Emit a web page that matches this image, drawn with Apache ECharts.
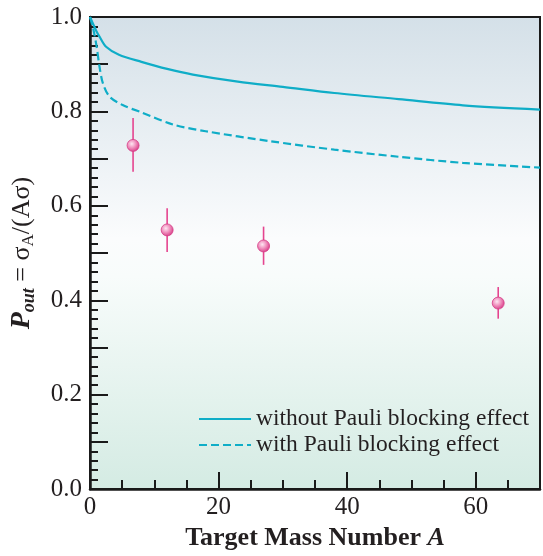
<!DOCTYPE html>
<html>
<head>
<meta charset="utf-8">
<script src="https://cdn.jsdelivr.net/npm/echarts@6/dist/echarts.min.js"></script>
<style>
  html, body { margin: 0; padding: 0; background: #fff; }
  #chart { width: 543px; height: 556px; }
</style>
</head>
<body>
<div id="chart"></div>
<script>
// curves: [A, P_out]
var noPauli = [[0, 1.0], [1, 0.97], [1.5, 0.958], [2.5, 0.937], [4.5, 0.92], [8, 0.905], [12, 0.89],
    [16, 0.878], [23, 0.863], [30, 0.852], [38, 0.839], [48, 0.826], [58, 0.813], [70, 0.804]];
var withPauli = [[0, 1.0], [0.5, 0.975], [1, 0.94], [1.5, 0.893], [2, 0.86], [3, 0.832], [5, 0.814],
    [8, 0.798], [13, 0.772], [18, 0.758], [28, 0.737], [38, 0.719], [48, 0.704], [58, 0.691], [70, 0.681]];

// measured points
var expA = [6.7, 12, 27, 63.5];
var expP = [0.728, 0.549, 0.515, 0.394];
var errLow = [0.672, 0.502, 0.475, 0.361];
var errHigh = [0.786, 0.595, 0.556, 0.428];

var legendNames = ['without Pauli blocking effect', 'with Pauli blocking effect'];

var lineColor = '#0fadc7';
var pink = '#e5448f';
var serif = 'Liberation Serif';

var points = expA.map(function (a, i) { return [a, expP[i]]; });
var bars = expA.map(function (a, i) { return [a, errLow[i], errHigh[i]]; });

var chart = echarts.init(document.getElementById('chart'));

var option = {
    animation: false,
    grid: {
        left: 89, right: 2, top: 17, bottom: 65,
        show: true,
        borderColor: '#1a1a1a',
        borderWidth: 2,
        backgroundColor: {
            type: 'linear', x: 0, y: 0, x2: 0, y2: 1,
            colorStops: [
                {offset: 0, color: '#d4e0e8'},
                {offset: 0.47, color: '#fbfcfd'},
                {offset: 0.55, color: '#f8fcfb'},
                {offset: 1, color: '#d4ebe3'}
            ]
        }
    },
    legend: {
        data: legendNames,
        orient: 'vertical',
        left: 193,
        top: 402,
        itemWidth: 52,
        itemHeight: 12,
        itemGap: 2,
        itemStyle: {opacity: 0},
        textStyle: {fontFamily: serif, fontSize: 23.5, color: '#231f20'}
    },
    xAxis: {
        type: 'value',
        min: 0, max: 70, interval: 20,
        name: '{b|Target Mass Number }{bi|A}',
        nameLocation: 'middle',
        nameGap: 35,
        nameTextStyle: {
            rich: {
                b: {fontFamily: serif, fontSize: 26, fontWeight: 'bold', color: '#231f20'},
                bi: {fontFamily: serif, fontSize: 26, fontWeight: 'bold', fontStyle: 'italic', color: '#231f20'}
            }
        },
        axisLine: {lineStyle: {color: '#1a1a1a', width: 2.5}},
        axisTick: {inside: true, length: 17, lineStyle: {color: '#1a1a1a', width: 2}},
        minorTick: {show: true, splitNumber: 4, length: 9, lineStyle: {color: '#1a1a1a', width: 2}},
        axisLabel: {fontFamily: serif, fontSize: 25, color: '#231f20', margin: 6,
            formatter: function (v) { return v >= 70 ? '' : v; }},
        splitLine: {show: false}
    },
    yAxis: {
        type: 'value',
        min: 0, max: 1, interval: 0.1,
        name: '{p|P}{sub|out}{n| = σ}{s|A}{n|/(Aσ)}',
        nameLocation: 'middle',
        nameGap: 52,
        nameTextStyle: {
            rich: {
                p: {fontFamily: serif, fontSize: 28, fontWeight: 'bold', fontStyle: 'italic', color: '#231f20'},
                sub: {fontFamily: serif, fontSize: 18, fontWeight: 'bold', fontStyle: 'italic', color: '#231f20', padding: [14, 0, 0, 0]},
                n: {fontFamily: serif, fontSize: 26, color: '#231f20'},
                s: {fontFamily: serif, fontSize: 17, color: '#231f20', padding: [14, 0, 0, 0]}
            }
        },
        axisLine: {lineStyle: {color: '#1a1a1a', width: 2.5}},
        axisTick: {inside: true, length: 18, lineStyle: {color: '#1a1a1a', width: 2}},
        minorTick: {show: true, splitNumber: 5, length: 8, lineStyle: {color: '#1a1a1a', width: 2}},
        axisLabel: {fontFamily: serif, fontSize: 25, color: '#231f20', margin: 8,
            formatter: function (v) {
                return Math.round(v * 10) % 2 === 0 ? v.toFixed(1) : '';
            }},
        splitLine: {show: false}
    },
    series: [
        {
            name: legendNames[0],
            type: 'line',
            data: noPauli,
            showSymbol: false,
            symbol: 'none',
            smooth: 0.3,
            lineStyle: {color: lineColor, width: 2.2},
            itemStyle: {color: lineColor}
        },
        {
            name: legendNames[1],
            type: 'line',
            data: withPauli,
            showSymbol: false,
            symbol: 'none',
            smooth: 0.3,
            lineStyle: {color: lineColor, width: 2.2, type: [8, 4]},
            itemStyle: {color: lineColor}
        },
        {
            type: 'custom',
            data: bars,
            z: 3,
            renderItem: function (params, api) {
                var top = api.coord([api.value(0), api.value(2)]);
                var bot = api.coord([api.value(0), api.value(1)]);
                return {
                    type: 'line',
                    shape: {x1: top[0], y1: top[1], x2: bot[0], y2: bot[1]},
                    style: {stroke: pink, lineWidth: 1.6}
                };
            }
        },
        {
            type: 'scatter',
            data: points,
            z: 4,
            symbolSize: 12,
            itemStyle: {
                color: {
                    type: 'radial', x: 0.4, y: 0.38, r: 0.62,
                    colorStops: [
                        {offset: 0, color: '#fde6f1'},
                        {offset: 0.45, color: '#f29ac4'},
                        {offset: 1, color: '#d9408a'}
                    ]
                },
                borderColor: '#d63d87',
                borderWidth: 0.8,
                opacity: 1
            }
        }
    ]
};

chart.setOption(option);
</script>
</body>
</html>
